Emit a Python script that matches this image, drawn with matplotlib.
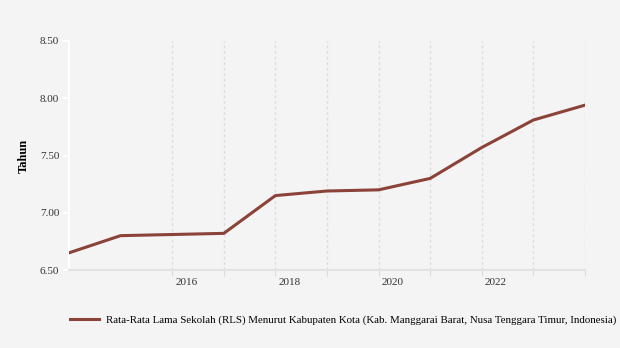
import numpy as np
import matplotlib.pyplot as plt
import matplotlib.transforms as mtransforms

# Data
tahun = [2014, 2015, 2016, 2017, 2018, 2019, 2020, 2021, 2022, 2023, 2024]
rls = [6.65, 6.80, 6.81, 6.82, 7.15, 7.19, 7.20, 7.30, 7.57, 7.81, 7.94]
tahun_label = [2016, 2018, 2020, 2022]
tahun_grid = [2016, 2017, 2018, 2019, 2020, 2021, 2022, 2023, 2024]
label_seri = 'Rata-Rata Lama Sekolah (RLS) Menurut Kabupaten Kota (Kab. Manggarai Barat, Nusa Tenggara Timur, Indonesia)'

plt.rcParams['font.family'] = ['Liberation Serif', 'DejaVu Serif']

bg = '#f4f4f4'
warna = '#8b4239'

fig = plt.figure(figsize=(6.2, 3.48), dpi=100, facecolor=bg)
ax = fig.add_axes([69 / 620, 1 - 270 / 348, (585 - 69) / 620, (270 - 41) / 348], facecolor=bg)

# garis data
ax.plot(tahun, rls, color=warna, linewidth=2.2, label=label_seri, zorder=3)

# sumbu
ax.set_xlim(2014, 2024)
ax.set_ylim(6.5, 8.5)
yt = np.arange(6.5, 8.51, 0.5)
ax.set_yticks(yt)
ax.set_yticklabels([f'{v:.2f}' for v in yt])
ax.set_xticks(tahun_grid)
ax.set_xticklabels([])

# label tahun digeser sedikit ke kanan dari garis grid
offset = mtransforms.ScaledTranslation(14 / 100, -8 / 100, fig.dpi_scale_trans)
for t in tahun_label:
    ax.text(t, 0, str(t), transform=ax.get_xaxis_transform() + offset,
            ha='center', va='top', fontsize=8, color='#333333')

ax.grid(True, axis='x', color='#dcdcdc', linestyle=(0, (2, 2)), linewidth=1)
ax.tick_params(axis='x', length=4, color='#dcdcdc')
ax.tick_params(axis='y', length=4, color='white', width=1.5, labelsize=8, labelcolor='#333333', pad=3)

for s in ['top', 'right']:
    ax.spines[s].set_visible(False)
ax.spines['left'].set_color('white')
ax.spines['left'].set_linewidth(1.5)
ax.spines['bottom'].set_color('#e2e2e2')
ax.spines['bottom'].set_linewidth(1.5)

ax.set_ylabel('Tahun', fontsize=9, fontweight='bold', labelpad=7)

# legenda
fig.legend(loc='center left', bbox_to_anchor=(66 / 620, 1 - 320 / 348), frameon=False,
           fontsize=7.85, handlelength=2.6, handletextpad=0.7, borderaxespad=0)

fig.savefig('out.png', dpi=100, facecolor=bg)
